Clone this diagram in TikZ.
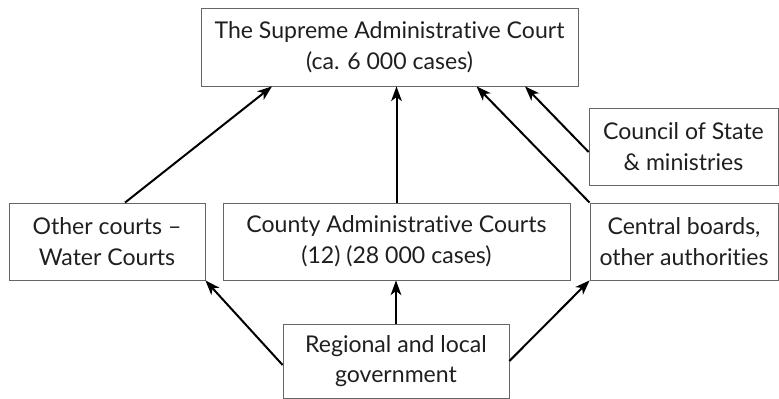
\documentclass[tikz,border=0pt]{standalone}
\usepackage{fontspec}
\setmainfont[Ligatures=NoCommon]{Lato}
\usetikzlibrary{arrows.meta}
\begin{document}
\begin{tikzpicture}[x=0.75pt,y=-0.75pt,
    court/.style={draw=black!60,line width=0.6pt,align=center,inner sep=0pt,
      text=black!88,font=\fontsize{17.3}{23}\selectfont,minimum height=57.75pt},
    appeal/.style={-{Stealth[length=11pt,width=8pt,inset=3pt]},line width=1.5pt}]
    \useasboundingbox (0,0) rectangle (779,399);
    \node[court,minimum width=282.75pt,minimum height=58.5pt] (supreme) at (389.5,47) {The Supreme Administrative Court\\(ca. 6~000 cases)};
    \node[court,minimum width=141.75pt] (council) at (683.5,146.5) {Council of State\\\& ministries};
    \node[court,minimum width=147pt] (other) at (107,241.5) {Other courts --\\Water Courts};
    \node[court,minimum width=260.25pt] (county) at (396.5,241.5) {County Administrative Courts\\(12) (28~000 cases)};
    \node[court,minimum width=141pt] (central) at (684,241.5) {Central boards,\\other authorities};
    \node[court,minimum width=169.5pt,minimum height=55.5pt] (regional) at (396,361) {Regional and local\\government};
    % appeals to the top
    \draw[appeal] ([shift={(18,0)}]other.north) -- ([shift={(-117.5,0)}]supreme.south);
    \draw[appeal] (county.north) -- (county.north |- supreme.south);
    \draw[appeal] (central.north west) -- ([shift={(87,0)}]supreme.south);
    \draw[appeal] ([shift={(0,5.5)}]council.west) -- ([shift={(135.5,0)}]supreme.south);
    % appeals from regional government
    \draw[appeal] ([shift={(0,4)}]regional.west) -- (other.south east);
    \draw[appeal] (regional.north) -- (regional.north |- county.south);
    \draw[appeal] (regional.east) -- (central.south west);
\end{tikzpicture}
\end{document}
